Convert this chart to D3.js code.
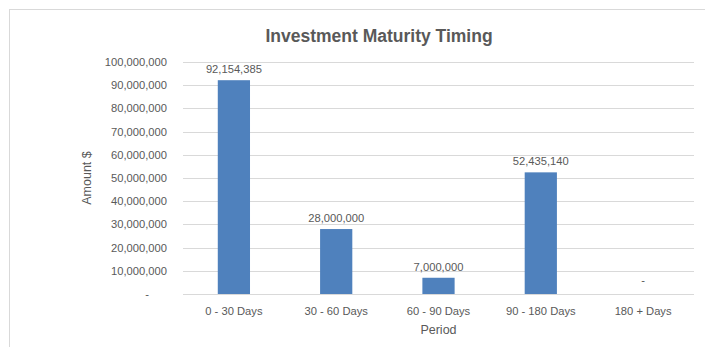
<!DOCTYPE html>
<html>
<head>
<meta charset="utf-8">
<script src="https://cdn.jsdelivr.net/npm/d3@7"></script>
<style>
  html, body { margin: 0; padding: 0; background: #ffffff; }
  svg { display: block; }
  text { font-family: "Liberation Sans", Arial, sans-serif; fill: #595959; }
</style>
</head>
<body>
<svg id="chart" width="705" height="347"></svg>
<script>
// Maturity buckets and invested amounts
const periods = ["0 - 30 Days", "30 - 60 Days", "60 - 90 Days", "90 - 180 Days", "180 + Days"];
const amounts = [92154385, 28000000, 7000000, 52435140, 0];
const yTicks = [0, 10000000, 20000000, 30000000, 40000000, 50000000, 60000000, 70000000, 80000000, 90000000, 100000000];

const svg = d3.select("#chart");
const W = 705, H = 347;
const plot = { left: 183, right: 694, top: 62, bottom: 294 };

// Outer chart frame
svg.append("rect")
  .attr("x", 9.5).attr("y", 9.5)
  .attr("width", W + 20).attr("height", H + 20)
  .attr("fill", "#ffffff").attr("stroke", "#d9d9d9").attr("stroke-width", 1);

const x = d3.scaleBand().domain(periods).range([plot.left, plot.right]).paddingInner(0.685).paddingOuter(0.34);
const y = d3.scaleLinear().domain([0, 100000000]).range([plot.bottom, plot.top]);

const fmt = v => v === 0 ? "-" : d3.format(",")(v);

// Horizontal gridlines
svg.append("g").selectAll("line").data(yTicks).join("line")
  .attr("x1", plot.left).attr("x2", plot.right)
  .attr("y1", d => Math.round(y(d)) + 0.5).attr("y2", d => Math.round(y(d)) + 0.5)
  .attr("stroke", "#d9d9d9").attr("stroke-width", 1);

// Y axis labels
const yAxis = d3.axisLeft(y).tickValues(yTicks).tickFormat(fmt).tickSize(0).tickPadding(0);
const gy = svg.append("g").attr("transform", `translate(167,0)`).call(yAxis);
gy.select(".domain").remove();
gy.selectAll("text").style("font-size", "11.2px").style("font-family", "Liberation Sans, Arial, sans-serif").attr("fill", "#595959");
gy.selectAll(".tick").filter(d => d === 0).select("text").attr("dx", -18);

// Bars
svg.append("g").selectAll("rect").data(periods).join("rect")
  .attr("x", d => x(d))
  .attr("width", x.bandwidth())
  .attr("y", (d, i) => y(amounts[i]))
  .attr("height", (d, i) => y(0) - y(amounts[i]))
  .attr("fill", "#4f81bd");

// Value labels above bars
svg.append("g").selectAll("text").data(periods).join("text")
  .attr("x", d => x(d) + x.bandwidth() / 2)
  .attr("y", (d, i) => y(amounts[i]) - (amounts[i] === 0 ? 10 : 7))
  .attr("text-anchor", "middle")
  .style("font-size", "11.2px")
  .text((d, i) => fmt(amounts[i]));

// X axis labels
const xAxis = d3.axisBottom(x).tickSize(0).tickPadding(0);
const gx = svg.append("g").attr("transform", `translate(0,${plot.bottom + 21})`).call(xAxis);
gx.select(".domain").remove();
gx.selectAll("text").style("font-size", "11.2px").style("font-family", "Liberation Sans, Arial, sans-serif").attr("fill", "#595959").attr("dy", "0");

// Axis titles
svg.append("text")
  .attr("x", (plot.left + plot.right) / 2).attr("y", 334)
  .attr("text-anchor", "middle").style("font-size", "12.5px")
  .text("Period");

svg.append("text")
  .attr("transform", `translate(91,${(plot.top + plot.bottom) / 2}) rotate(-90)`)
  .attr("text-anchor", "middle").style("font-size", "12.5px")
  .text("Amount $");

// Title
svg.append("text")
  .attr("x", 379).attr("y", 42)
  .attr("text-anchor", "middle")
  .style("font-size", "17.5px").style("font-weight", "bold")
  .text("Investment Maturity Timing");
</script>
</body>
</html>
